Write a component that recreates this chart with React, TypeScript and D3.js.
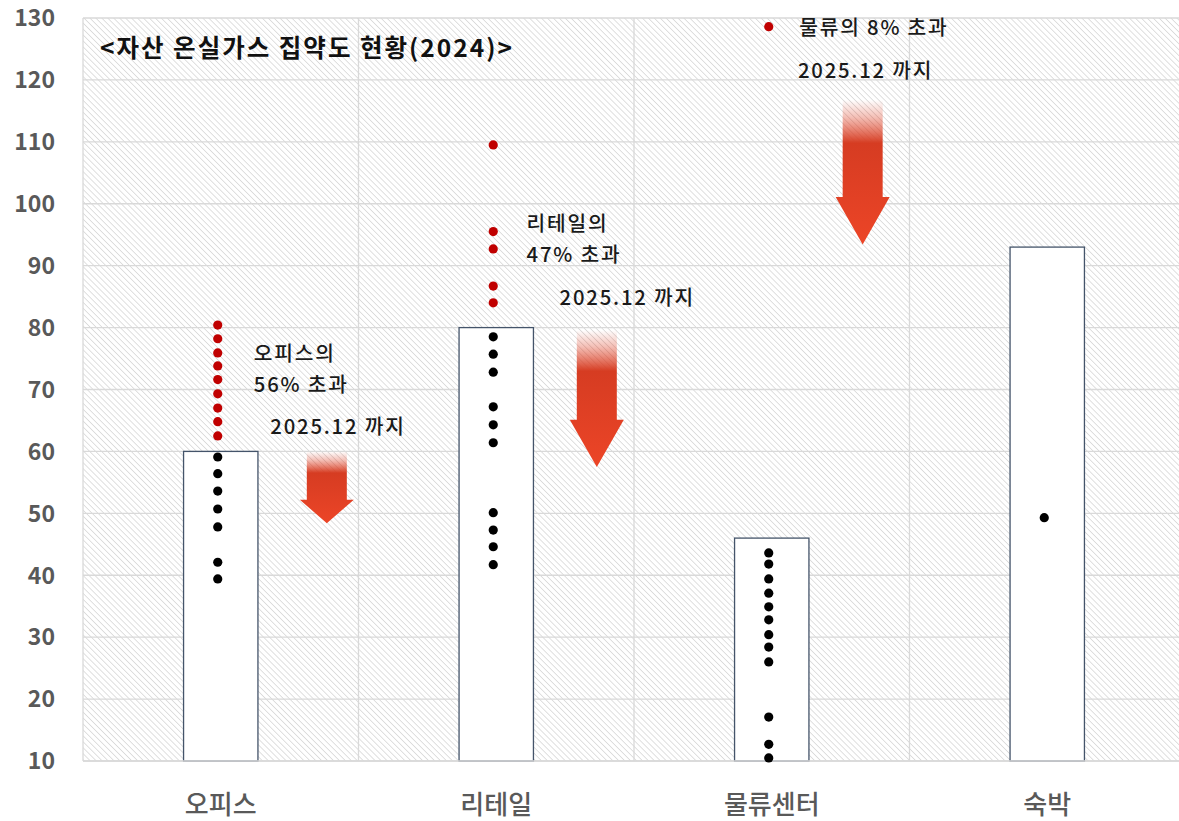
import React from 'react'
import * as d3 from 'd3'

// categories and bar values
const categories = ['오피스', '리테일', '물류센터', '숙박']
const barValues = [60, 80, 46, 93]
const yTicks = [10, 20, 30, 40, 50, 60, 70, 80, 90, 100, 110, 120, 130]

// assets above the target (red) and below (black), per category
const redDots = [
  [80.4, 78.2, 75.9, 73.8, 71.6, 69.3, 67.0, 64.8, 62.5],
  [109.5, 95.5, 92.7, 86.7, 84.0],
  [128.6],
  [],
]
const blackDots = [
  [59.1, 56.4, 53.6, 50.7, 47.8, 42.1, 39.4],
  [78.5, 75.7, 72.8, 67.2, 64.3, 61.4, 50.1, 47.3, 44.6, 41.7],
  [43.6, 41.8, 39.4, 37.1, 34.9, 32.8, 30.4, 28.4, 26.0, 17.1, 12.7, 10.5],
  [49.3],
]

// arrows: category, position in band, top / head / tip value
const arrowCats = ['오피스', '리테일', '물류센터']
const arrowPos = [0.885, 0.865, 0.83]
const arrowTop = [60, 79.6, 116.8]
const arrowHead = [52.2, 65.1, 101.1]
const arrowTip = [48.4, 57.5, 93.4]

// annotation lines: category, position in band, value, text
const noteCats = ['오피스', '오피스', '오피스', '리테일', '리테일', '리테일', '물류센터', '물류센터']
const notePos = [0.62, 0.62, 0.68, 0.61, 0.61, 0.73, 0.6, 0.595]
const noteValues = [75.75, 70.85, 64.0, 96.75, 91.85, 84.8, 128.4, 121.5]
const noteTexts = ['오피스의', '56% 초과', '2025.12 까지', '리테일의', '47% 초과', '2025.12 까지', '물류의 8% 초과', '2025.12 까지']

const title = '<자산 온실가스 집약도 현황(2024)>'

const W = 1179
const H = 821
const font = "'Noto Sans CJK KR', 'Noto Sans', sans-serif"

export default function App() {
  const x = d3.scaleBand().domain(categories).range([83, 1185]).padding(0)
  const y = d3.scaleLinear().domain([10, 130]).range([761, 18])
  const bw = x.bandwidth()
  const barW = bw * 0.27
  const cx = (c: string) => (x(c) as number) + bw / 2

  return (
    <div style={{ position: 'absolute', left: 0, top: 0 }}>
      <svg width={W} height={H} style={{ display: 'block', background: '#fff' }}>
        <defs>
          <pattern id="hatch" width={4.2} height={4.2} patternUnits="userSpaceOnUse" patternTransform="rotate(-45)">
            <line x1={0} y1={0} x2={0} y2={4.2} stroke="#cfcfcf" strokeWidth={1.3} />
          </pattern>
          <linearGradient id="arrowGrad" x1="0" y1="0" x2="0" y2="1">
            <stop offset="0" stopColor="#e04a30" stopOpacity={0} />
            <stop offset="0.12" stopColor="#e04a30" stopOpacity={0.35} />
            <stop offset="0.3" stopColor="#d63c22" stopOpacity={1} />
            <stop offset="1" stopColor="#ec4527" stopOpacity={1} />
          </linearGradient>
        </defs>

        {/* plot background */}
        <rect x={83} y={18} width={1185 - 83} height={761 - 18} fill="url(#hatch)" />

        {/* grid */}
        {yTicks.map((t) => (
          <line key={'h' + t} x1={83} x2={1185} y1={y(t)} y2={y(t)} stroke="#d9d9d9" strokeWidth={1.3} />
        ))}
        {categories.slice(1).map((c) => (
          <line key={'v' + c} x1={x(c)} x2={x(c)} y1={18} y2={761} stroke="#d9d9d9" strokeWidth={1.3} />
        ))}
        <line x1={83} x2={83} y1={18} y2={761} stroke="#d9d9d9" strokeWidth={1.3} />

        {/* y axis labels */}
        {yTicks.map((t) => (
          <text key={'yl' + t} x={55} y={y(t)} dy="0.36em" textAnchor="end" fontFamily={font}
            fontSize={23} fontWeight="bold" fill="#595959">{t}</text>
        ))}

        {/* bars */}
        {categories.map((c, i) => (
          <rect key={'b' + c} x={cx(c) - barW / 2} y={y(barValues[i])} width={barW}
            height={y(10) - y(barValues[i])} fill="#fff" stroke="#44546a" strokeWidth={1.3} />
        ))}

        {/* x axis line */}
        <line x1={83} x2={1185} y1={761} y2={761} stroke="#d9d9d9" strokeWidth={1.3} />

        {/* x labels */}
        {categories.map((c) => (
          <text key={'xl' + c} x={cx(c)} y={814} textAnchor="middle" fontFamily={font}
            fontSize={26} fontWeight={500} fill="#595959">{c}</text>
        ))}

        {/* dots */}
        {categories.map((c, i) => (
          <g key={'d' + c}>
            {redDots[i].map((v, j) => (
              <circle key={'r' + j} cx={cx(c) - 3} cy={y(v)} r={4.6} fill="#c00000" />
            ))}
            {blackDots[i].map((v, j) => (
              <circle key={'k' + j} cx={cx(c) - 3} cy={y(v)} r={4.6} fill="#000" />
            ))}
          </g>
        ))}

        {/* arrows */}
        {arrowCats.map((c, i) => {
          const ax = (x(c) as number) + bw * arrowPos[i]
          const sw = 20
          const hw = 27
          const p = d3.path()
          p.moveTo(ax - sw, y(arrowTop[i]))
          p.lineTo(ax + sw, y(arrowTop[i]))
          p.lineTo(ax + sw, y(arrowHead[i]))
          p.lineTo(ax + hw, y(arrowHead[i]))
          p.lineTo(ax, y(arrowTip[i]))
          p.lineTo(ax - hw, y(arrowHead[i]))
          p.lineTo(ax - sw, y(arrowHead[i]))
          p.closePath()
          return <path key={'a' + c} d={p.toString()} fill="url(#arrowGrad)" />
        })}

        {/* annotations */}
        {noteCats.map((c, i) => (
          <text key={'n' + i} x={(x(c) as number) + bw * notePos[i]} y={y(noteValues[i])} dy="0.36em"
            fontFamily={font} fontSize={20.3} fontWeight={500} letterSpacing={1.8} fill="#1a1a1a">{noteTexts[i]}</text>
        ))}

        {/* title */}
        <text x={100} y={48} dy="0.36em" fontFamily={font} fontSize={24.5} fontWeight="bold"
          letterSpacing={2} fill="#111">{title}</text>
      </svg>
    </div>
  )
}
